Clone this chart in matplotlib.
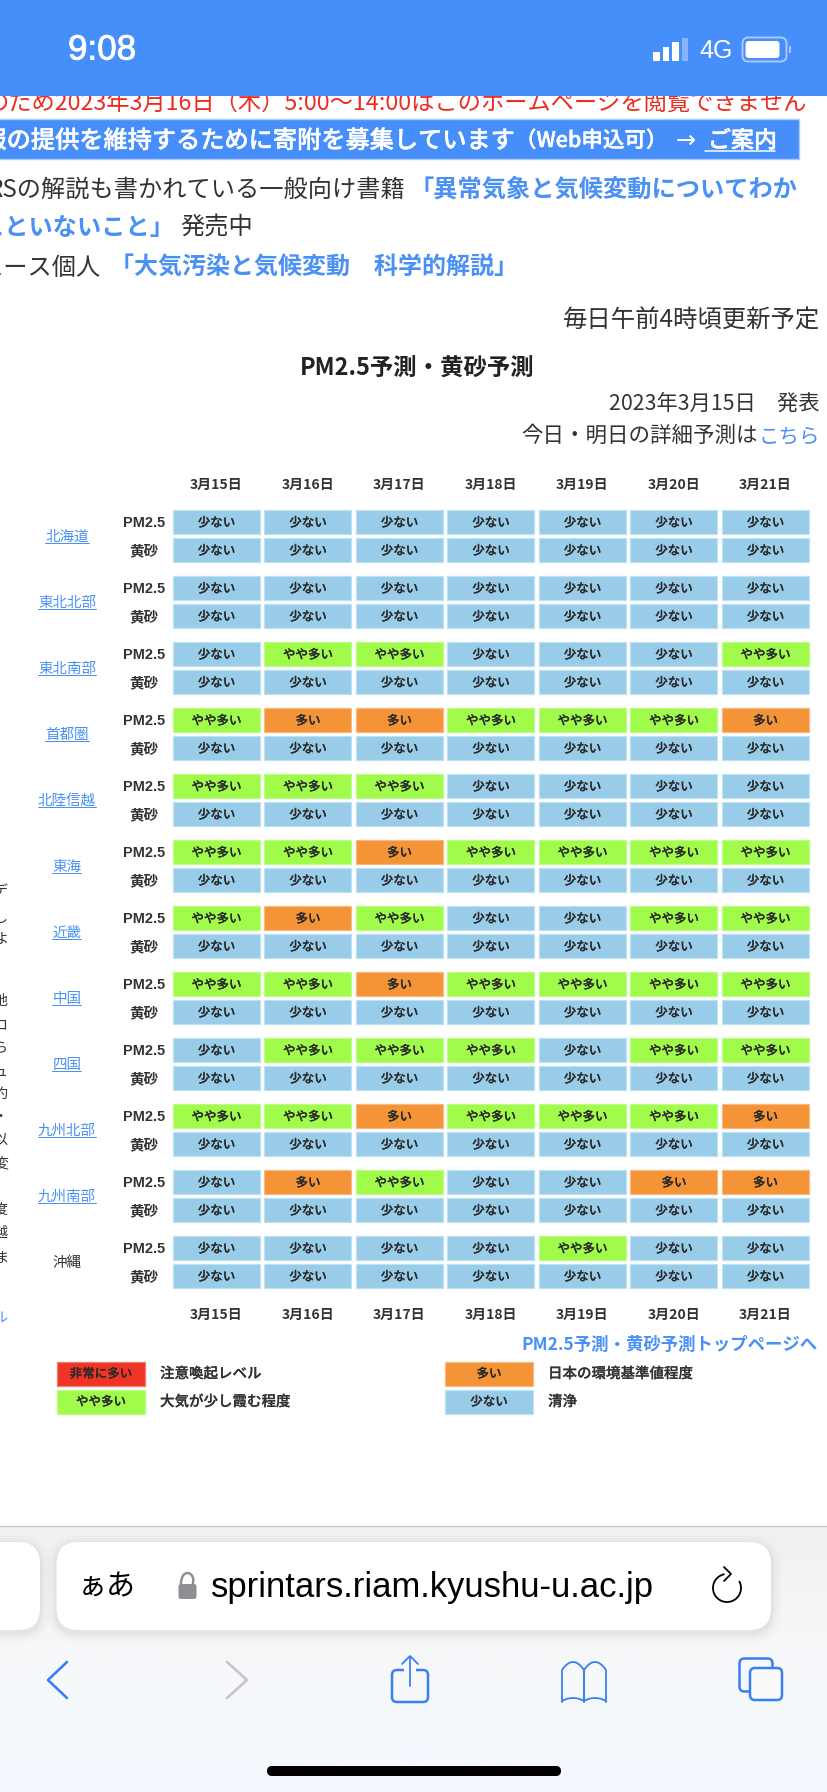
import numpy as np
import matplotlib
matplotlib.use("Agg")
import matplotlib.pyplot as plt
import matplotlib.patheffects as pe
from matplotlib.patches import Rectangle, FancyBboxPatch, Arc
from matplotlib.colors import LinearSegmentedColormap

JP = ['Noto Sans CJK JP', 'DejaVu Sans']
LAT = ['Liberation Sans', 'Noto Sans CJK JP', 'DejaVu Sans']
plt.rcParams['font.family'] = JP

# ---------- data ----------
dates = ['3月15日', '3月16日', '3月17日', '3月18日', '3月19日', '3月20日', '3月21日']
regions = ['北海道', '東北北部', '東北南部', '首都圏', '北陸信越', '東海', '近畿', '中国', '四国', '九州北部', '九州南部', '沖縄']
linked = [True] * 11 + [False]
species = ['PM2.5', '黄砂']
level_names = ['少ない', 'やや多い', '多い', '非常に多い']
level_colors = ['#98cce9', '#a0fb4a', '#f49436', '#ef3325']
level_edges = ['#bfe1f4', '#bdfc85', '#f9b980', '#f57a70']
pm25 = [
    [0, 0, 0, 0, 0, 0, 0],
    [0, 0, 0, 0, 0, 0, 0],
    [0, 1, 1, 0, 0, 0, 1],
    [1, 2, 2, 1, 1, 1, 2],
    [1, 1, 1, 0, 0, 0, 0],
    [1, 1, 2, 1, 1, 1, 1],
    [1, 2, 1, 0, 0, 1, 1],
    [1, 1, 2, 1, 1, 1, 1],
    [0, 1, 1, 1, 0, 1, 1],
    [1, 1, 2, 1, 1, 1, 2],
    [0, 2, 1, 0, 0, 2, 2],
    [0, 0, 0, 0, 1, 0, 0],
]
kosa = [[0] * 7 for _ in regions]
legend_levels = [3, 1, 2, 0]
legend_texts = ['注意喚起レベル', '大気が少し霞む程度', '日本の環境基準値程度', '清浄']
side_fragments = ['デ', 'し', 'よ', '地', 'ロ', 'ら', 'ュ', '約', '・', '以', '変', '度', '越', 'ま']

# ---------- layout ----------
W, H, DPI = 828, 1792, 100
X0, DX, CW = 173, 91.5, 87
Y0, DR, DG, CH = 510, 28, 66, 24
BLUE, LINK, DARK = '#468ef9', '#4a90f5', '#333333'
def fs(px):
    return px * 72 / DPI

fig = plt.figure(figsize=(W / DPI, H / DPI), dpi=DPI, facecolor='white')
ax = fig.add_axes([0, 0, 1, 1])
ax.set_xlim(0, W); ax.set_ylim(H, 0); ax.axis('off')

def T(x, y, s, px, color='#333333', ha='left', weight='normal', fam=JP, z=3, stroke=0):
    t = ax.text(x, y, s, fontsize=fs(px), color=color, ha=ha, va='center', weight=weight, family=fam, zorder=z)
    if stroke:
        t.set_path_effects([pe.withStroke(linewidth=stroke, foreground=color)])
    return t
def L(xs, ys, color, lw=1.5, z=6, **k):
    ax.plot(xs, ys, color=color, lw=lw * 72 / DPI, zorder=z, solid_capstyle='round', solid_joinstyle='round', **k)
def R(x, y, w, h, fc, ec='none', lw=0, z=2, r=None, alpha=None):
    if r is None:
        p = Rectangle((x, y), w, h, fc=fc, ec=ec, lw=lw, zorder=z, alpha=alpha)
    else:
        p = FancyBboxPatch((x, y), w, h, boxstyle=f'round,pad=0,rounding_size={r}', fc=fc, ec=ec, lw=lw, zorder=z, alpha=alpha)
    ax.add_patch(p)

# ---------- status bar ----------
R(0, 0, W, 96, BLUE, z=5)
T(68, 50, '9:08', 35, 'white', z=6, fam=['Liberation Sans'], stroke=0.6)
for i, (top, a) in enumerate(zip([52, 47, 42, 38], [1, 1, 1, .35])):
    R(653.5 + i * 9.4, top, 6.5, 61 - top, 'white', z=6, alpha=a)
T(699, 51, '4G', 25, 'white', z=6, fam=['Liberation Sans'])
R(742.5, 37.5, 44, 24, 'none', ec='#a9c9fb', lw=1.4, z=6, r=6)
R(745.5, 41, 34, 17, 'white', z=6, r=3)
R(789, 46, 2, 7, '#a9c9fb', z=6)

# ---------- page header text ----------
T(807, 104, 'のため2023年3月16日（木）5:00～14:00はこのホームページを閲覧できません', 23.3, '#ee2b20', ha='right', z=3)
R(-2, 119.5, 801, 39.5, BLUE, ec='#a9cbfb', lw=1, z=3)
T(516, 141, '報の提供を維持するために寄附を募集しています', 24.2, 'white', ha='right', weight='medium', z=4, stroke=0.3)
T(515, 141, '（Web申込可）', 21.5, 'white', weight='medium', z=4, stroke=0.3)
T(676, 141, '→', 24, 'white', z=4, fam=['DejaVu Sans'])
T(708, 141, 'ご案内', 23, 'white', weight='medium', z=4, stroke=0.3)
L([705, 775], [151, 151], 'white', 1.5)
T(405, 190, 'RSの解説も書かれている一般向け書籍', 24.2, ha='right', z=3)
T(410, 190, '「異常気象と気候変動についてわか', 24.2, LINK, weight='bold')
T(174, 228, 'こといないこと」', 24.2, LINK, ha='right', weight='bold')
T(180, 228, '発売中', 24.2)
T(101, 268, 'ュース個人', 24.2, ha='right')
T(110, 268, '「大気汚染と気候変動　科学的解説」', 24, LINK, weight='bold')
T(820, 321, '毎日午前4時頃更新予定', 24.4, ha='right')
T(417, 369, 'PM2.5予測・黄砂予測', 23.4, '#222222', ha='center', weight='bold')
T(819.5, 404, '2023年3月15日　発表', 21.3, ha='right')
T(757.5, 436, '今日・明日の詳細予測は', 21.5, ha='right')
T(758.5, 436, 'こちら', 20.5, LINK)

# ---------- forecast table ----------
for j, d in enumerate(dates):
    cx = X0 + j * DX + CW / 2
    T(cx, 485, d, 14, ha='center', weight='bold')
    T(cx, 1314.5, d, 14, ha='center', weight='bold')
for g, reg in enumerate(regions):
    y = Y0 + g * DG
    mid = y + (DR + CH) / 2
    T(67, mid + 1, reg, 14.5, LINK if linked[g] else DARK, ha='center')
    if linked[g]:
        half = len(reg) * 14.5 / 2
        L([67 - half, 67 + half], [mid + 7, mid + 7], LINK, 1.0)
    for s, (sp, row) in enumerate(zip(species, (pm25[g], kosa[g]))):
        yy = y + s * DR
        T(144, yy + CH / 2 + 1, sp, 14.5, ha='center', weight='bold', fam=LAT)
        for j, lev in enumerate(row):
            x = X0 + j * DX
            R(x, yy, CW, CH, level_colors[lev], ec=level_edges[lev], lw=0.9)
            T(x + CW / 2, yy + CH / 2 + 1, level_names[lev], 12.5, '#2a2a2a', ha='center', weight='medium', stroke=0.12)
T(818, 1345, 'PM2.5予測・黄砂予測トップページへ', 17.4, LINK, ha='right', weight='bold')

# ---------- legend ----------
for k, (lev, txt) in enumerate(zip(legend_levels, legend_texts)):
    x = 57 if k < 2 else 445
    y = 1362 + (k % 2) * 28
    R(x, y, 88, 24, level_colors[lev], ec=level_edges[lev], lw=0.9)
    T(x + 44, y + 12, level_names[lev], 12.5, '#2a2a2a', ha='center', weight='medium', stroke=0.12)
    T(x + 103, y + 12, txt, 14.5, weight='medium', stroke=0.15)

# ---------- clipped left column ----------
frag_y = [892, 918, 939, 1001, 1025, 1048, 1072, 1094, 1117, 1140, 1163, 1210, 1233, 1257]
for s, y in zip(side_fragments, frag_y):
    T(8, y, s, 14, ha='right')
T(7, 1318, 'ル', 14, LINK, ha='right')

# ---------- browser chrome ----------
grad = LinearSegmentedColormap.from_list('g', ['#f0f0f0', '#f7f8fa', '#f3f8ff'])
ax.imshow(np.linspace(0, 1, 256)[:, None], cmap=grad, extent=(0, W, H, 1526), aspect='auto', zorder=1)
ax.set_xlim(0, W); ax.set_ylim(H, 0)
L([0, W], [1526, 1526], '#c4c4c4', 1.2, z=2)
for sp, a in zip([10, 7, 4, 2], [.012, .015, .02, .025]):
    R(56.5 - sp, 1542 - sp + 3, 714.5 + 2 * sp, 88 + 2 * sp, 'black', z=2, r=22 + sp, alpha=a)
    R(-40 - sp, 1542 - sp + 3, 80 + 2 * sp, 88 + 2 * sp, 'black', z=2, r=22 + sp, alpha=a)
R(56.5, 1542, 714.5, 88, 'white', z=3, r=22)
R(-40, 1542, 80, 88, 'white', z=3, r=22)
T(78, 1587, 'ぁあ', 29, 'black', z=6, fam=JP)
T(211, 1587, 'sprintars.riam.kyushu-u.ac.jp', 34.6, 'black', z=6, fam=['Liberation Sans'])
# lock
R(178.5, 1584, 18, 15, '#8e8e93', z=6, r=2.5)
ax.add_patch(Arc((187.5, 1581), 12, 16, theta1=180, theta2=360, color='#8e8e93', lw=fs(2.4), zorder=6))
L([181.5, 181.5], [1581, 1585], '#8e8e93', 2.4)
L([193.5, 193.5], [1581, 1585], '#8e8e93', 2.4)
# reload
ax.add_patch(Arc((727, 1588), 28, 28, theta1=-30, theta2=260, color='black', lw=fs(1.8), zorder=6))
L([724, 731, 724], [1567, 1574, 1581], 'black', 1.8)
# navigation
NAV = '#3a7ff0'
L([67, 48, 67], [1662, 1680, 1698], NAV, 2.6)
L([227, 247, 227], [1662, 1680, 1698], '#c6c6c8', 2.6)
R(392, 1670, 36, 32, 'none', ec=NAV, lw=1.8, z=6, r=5)
R(404, 1664, 12, 10, '#f8f9fb', z=6)
L([410, 410], [1657, 1686], NAV, 1.8, z=7)
L([402, 410, 418], [1664, 1656, 1664], NAV, 1.8, z=7)
t = np.linspace(0, 1, 30)
for a, b in ((562, 584), (606, 584)):
    top = 1662 + 8 * (2 * t - 1) ** 2
    xx = np.r_[a, a + (b - a) * t, b]
    yy = np.r_[1702, top, 1702]
    L(xx, yy, NAV, 1.8)
    L(a + (b - a) * t, 1701 - 3 * (1 - (2 * t - 1) ** 2), NAV, 1.8)
R(739.5, 1658.5, 33, 33, 'none', ec=NAV, lw=1.8, z=6, r=5)
R(750, 1668, 32, 32, '#f8f9fb', ec=NAV, lw=1.8, z=7, r=5)
R(267, 1766, 294, 10, 'black', z=6, r=5)

fig.savefig('out.png', dpi=DPI, facecolor='white')
